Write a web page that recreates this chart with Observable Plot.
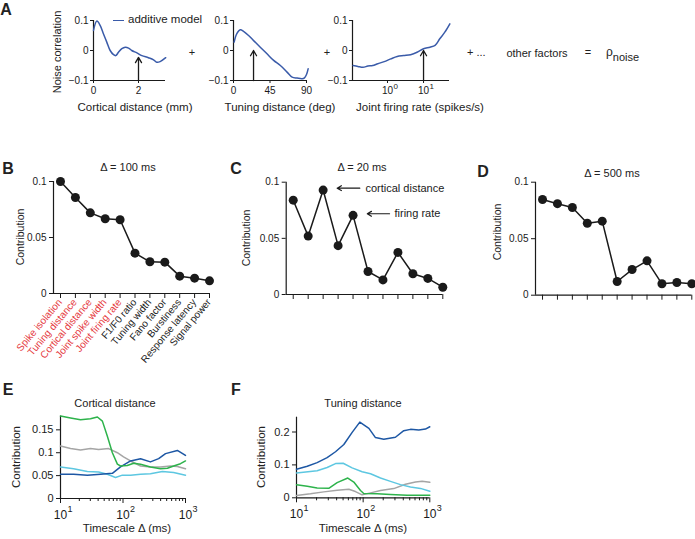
<!DOCTYPE html>
<html><head><meta charset="utf-8">
<script src="https://cdn.jsdelivr.net/npm/d3@7"></script>
<script src="https://cdn.jsdelivr.net/npm/@observablehq/plot@0.6"></script>
<style>
body{margin:0;background:#fff;}
#fig{position:relative;width:695px;height:539px;overflow:hidden;font-family:"Liberation Sans",Arial,Helvetica,sans-serif;color:#222;background:#fff;}
.lbl{position:absolute;white-space:nowrap;line-height:1.15;}
</style></head><body><div id="fig"></div>
<script>
const FONT = '"Liberation Sans", Arial, Helvetica, sans-serif';

// ---------------- DATA ----------------
// Panel A: additive model components
const aCorticalDist = [0,0.15,0.3,0.44,0.59,0.74,0.89,0.99,1.11,1.26,1.41,1.56,1.7,1.93,2.15,2.44,2.67,2.81,2.96,3.21];
const aCorticalCorr = [0.067,0.098,0.083,0.056,0.028,0,-0.014,-0.017,-0.006,0.006,0.011,0.008,0,-0.008,-0.017,-0.024,-0.031,-0.039,-0.037,-0.024];
const aTuningDeg = [0.8,4.1,8.3,12.4,18.6,24.8,33,41.3,49.5,57.8,66,72.3,78.4,84.6,87.5,90,92];
const aTuningCorr = [0.028,0.056,0.069,0.064,0.05,0.033,0.011,-0.011,-0.033,-0.05,-0.072,-0.089,-0.092,-0.094,-0.091,-0.08,-0.061];
const aRate = [0.111,0.151,0.209,0.285,0.389,0.537,0.813,1.23,1.86,2.82,4.37,6.61,10,15.1,20.9,28.2,38.9,53.7];
const aRateCorr = [-0.05,-0.053,-0.056,-0.052,-0.05,-0.044,-0.037,-0.028,-0.02,-0.017,-0.014,-0.006,0.006,0.011,0.017,0.039,0.061,0.089];
const aArrowX = [2, 24.7, 10];
const aArrowTip = [-0.023, 0, 0];

// Panels B-D: contributions of factors
const factors = ["Spike isolation","Tuning distance","Cortical distance","Joint spike width","Joint firing rate","F1/F0 ratio","Tuning width","Fano factor","Burstiness","Response latency","Signal power"];
const contribB = [0.1,0.0857,0.072,0.0667,0.0658,0.036,0.0283,0.028,0.0155,0.0137,0.0113];
const contribC = [0.084,0.052,0.093,0.0435,0.0705,0.0205,0.013,0.0375,0.0185,0.0143,0.0065];
const contribD = [0.0847,0.081,0.0776,0.0637,0.0655,0.0121,0.0227,0.0304,0.0101,0.0112,0.0101];
const cNotes = [
  {label:"cortical distance", tail:4.45, tip:2.94, textAt:4.83, y:0.0947},
  {label:"firing rate", tail:6.44, tip:4.95, textAt:6.77, y:0.0719}
];

// Panel E: cortical distance vs timescale [ms, contribution]
const eGreen = [[10,0.18],[14.5,0.176],[20.9,0.172],[30.2,0.174],[38.9,0.178],[46.8,0.169],[56.2,0.136],[67.6,0.1],[81.3,0.075],[91.2,0.071],[117,0.072],[148,0.077],[191,0.075],[275,0.069],[398,0.065],[513,0.066],[646,0.071],[832,0.076],[1000,0.082]];
const eGray = [[10,0.1145],[14.5,0.109],[20.9,0.106],[30.2,0.109],[40.7,0.107],[58.9,0.109],[81.3,0.1],[102,0.091],[132,0.082],[191,0.071],[275,0.069],[398,0.069],[575,0.071],[741,0.07],[1000,0.065]];
const eBlue = [[10,0.053],[16.2,0.053],[26.9,0.051],[43.7,0.053],[67.6,0.055],[91.2,0.069],[132,0.082],[191,0.087],[275,0.08],[372,0.087],[479,0.098],[741,0.105],[1000,0.094]];
const eCyan = [[10,0.069],[16.2,0.065],[26.9,0.059],[40.7,0.058],[56.2,0.053],[75.9,0.046],[97.7,0.051],[132,0.051],[191,0.053],[275,0.054],[427,0.059],[646,0.057],[1000,0.051]];

// Panel F: tuning distance vs timescale
const fBlue = [[10,0.087],[14.5,0.096],[20.4,0.107],[28.8,0.122],[38.5,0.14],[51.3,0.162],[68.4,0.199],[89.1,0.23],[122,0.211],[153,0.183],[204,0.178],[305,0.184],[407,0.204],[513,0.208],[684,0.206],[861,0.209],[1000,0.216]];
const fCyan = [[10,0.0755],[20.4,0.082],[28.8,0.092],[38.5,0.104],[50.1,0.105],[68.4,0.091],[96.6,0.079],[129,0.073],[182,0.06],[257,0.05],[363,0.04],[513,0.033],[724,0.0286],[1000,0.02]];
const fGreen = [[10,0.04],[14.5,0.035],[20.4,0.03],[30.5,0.029],[40.7,0.046],[58.9,0.06],[72.4,0.048],[91.2,0.022],[102,0.013],[162,0.012],[257,0.01],[457,0.008],[1000,0.008]];
const fGray = [[10,0.007],[16.2,0.012],[25.7,0.018],[40.7,0.023],[61,0.026],[76.7,0.019],[96.6,0.009],[129,0.015],[182,0.022],[288,0.028],[431,0.041],[610,0.048],[767,0.05],[1000,0.047]];

// tick values
const logMajor = [10,100,1000];
const logMinor = [20,30,40,50,60,70,80,90,200,300,400,500,600,700,800,900];
const rateMajor = [1,10];
const exponent = d => String(Math.round(Math.log10(d)));

// ---------------- HELPERS ----------------
const fig = document.getElementById("fig");
const C_BLUE = "#1d57a4", C_CYAN = "#5dc7e1", C_GREEN = "#2db34b", C_GRAY = "#a5a5a5", C_A = "#3a5ba9", C_RED = "#e5383d", INK = "#1a1a1a";
function place(svg, left, top){ svg.style.position="absolute"; svg.style.left=left+"px"; svg.style.top=top+"px"; fig.appendChild(svg); }
function label(html, x, y, o={}){
  const d=document.createElement("div"); d.className="lbl"; d.innerHTML=html;
  d.style.left=x+"px"; d.style.top=y+"px"; d.style.fontSize=(o.size||11)+"px";
  if(o.weight) d.style.fontWeight=o.weight;
  if(o.color) d.style.color=o.color;
  const ax = o.anchor==="start"?"0%":o.anchor==="end"?"-100%":"-50%";
  d.style.transform=`translate(${ax},-50%)`+(o.rotate?` rotate(${o.rotate}deg)`:"");
  fig.appendChild(d);
}
const signed = d => d<0 ? "\u2212"+Math.abs(d) : String(d);
const style = (fs) => ({background:"transparent", overflow:"visible", fontSize: fs+"px", fontFamily: FONT, color: INK});
const pairs = (xs, ys) => xs.map((x,i)=>[x, ys[i]]);

// ---------------- PANEL A ----------------
function panelA({xs, ys, xopts, xTicks, xFmt, arrowX, arrowTip, box, m, extra=[]}){
  const data = pairs(xs, ys);
  return Plot.plot({
    width: box.w, height: box.h, marginLeft:m[0], marginRight:m[1], marginTop:m[2], marginBottom:m[3],
    x: {...xopts, label:null}, y:{domain:[-0.1,0.1], label:null},
    style: style(10),
    marks: [
      Plot.ruleX([xopts.domain[0]], {stroke:INK, strokeWidth:1.2}),
      Plot.ruleY([-0.1], {stroke:INK, strokeWidth:1.2}),
      Plot.axisY({ticks:[-0.1,0,0.1], tickFormat:signed, tickSize:3, tickPadding:2, stroke:INK}),
      Plot.axisX({ticks:xTicks, tickFormat:xFmt, tickSize:3, tickPadding:3, stroke:INK}),
      Plot.line(data, {x:d=>d[0], y:d=>d[1], stroke:C_A, strokeWidth:1.5, curve:"catmull-rom"}),
      Plot.arrow([0], {x1:arrowX, x2:arrowX, y1:-0.1, y2:arrowTip, stroke:INK, strokeWidth:1.3, headLength:7}),
      ...extra
    ]
  });
}
place(panelA({xs:aCorticalDist, ys:aCorticalCorr, xopts:{domain:[0,3.2]}, xTicks:[0,2], xFmt:d=>String(d),
  arrowX:aArrowX[0], arrowTip:aArrowTip[0], box:{w:175,h:120}, m:[58,45,20,40]}), 35, 0);
place(panelA({xs:aTuningDeg, ys:aTuningCorr, xopts:{domain:[0,90]}, xTicks:[0,45,90], xFmt:d=>String(d),
  arrowX:aArrowX[1], arrowTip:aArrowTip[1], box:{w:130,h:120}, m:[33,24,20,40]}), 200, 0);
place(panelA({xs:aRate, ys:aRateCorr, xopts:{type:"log", domain:[0.107,52.5]}, xTicks:rateMajor, xFmt:()=>"10",
  arrowX:aArrowX[2], arrowTip:aArrowTip[2], box:{w:140,h:120}, m:[32,11,20,40],
  extra:[Plot.text(rateMajor, {x:d=>d, frameAnchor:"bottom", text:exponent, dx:6, dy:8, textAnchor:"start", fontSize:8, fill:INK})]}), 320, 0);

// ---------------- PANELS B, C, D ----------------
function panelDots({values, box, m, extra=[]}){
  const idx = values.map((v,i)=>i);
  return Plot.plot({
    width: box.w, height: box.h, marginLeft:m[0], marginRight:m[1], marginTop:m[2], marginBottom:m[3],
    x:{domain:[-0.47,10], label:null}, y:{domain:[0,0.1], label:null},
    style: style(10),
    marks: [
      Plot.ruleX([-0.47], {stroke:INK, strokeWidth:1.2}),
      Plot.ruleY([0], {stroke:INK, strokeWidth:1.2}),
      Plot.axisY({ticks:[0,0.05,0.1], tickFormat:d=>String(d), tickSize:4, tickPadding:3, stroke:INK}),
      Plot.axisX({ticks:idx, tickFormat:()=>"", tickSize:5, stroke:INK}),
      Plot.line(values, {x:(d,i)=>i, y:d=>d, stroke:INK, strokeWidth:1.5}),
      Plot.dot(values, {x:(d,i)=>i, y:d=>d, r:4.5, fill:INK, stroke:"none"}),
      ...extra
    ]
  });
}
const factorLabel = (filter, fill) => Plot.text(factors, {filter, x:(d,i)=>i, frameAnchor:"bottom", dy:9, dx:2, rotate:-50, textAnchor:"end", fontSize:10, fill});
place(panelDots({values:contribB, box:{w:225,h:235}, m:[53,16,31,92],
  extra:[factorLabel((d,i)=>i<5, C_RED), factorLabel((d,i)=>i>=5, INK)]}), 0, 150);
place(panelDots({values:contribC, box:{w:215,h:155}, m:[45.7,12.7,31.7,11],
  extra:[
    Plot.arrow(cNotes, {x1:"tail", x2:"tip", y1:"y", y2:"y", stroke:INK, strokeWidth:1.2, headLength:6}),
    Plot.text(cNotes, {x:"textAt", y:"y", text:"label", textAnchor:"start", fontSize:11, fill:INK})
  ]}), 240, 150);
place(panelDots({values:contribD, box:{w:215,h:155}, m:[55,3.7,31.7,10.3]}), 480, 150);

// ---------------- PANELS E, F ----------------
function panelTime({series, ydomain, yticks, box, m}){
  return Plot.plot({
    width: box.w, height: box.h, marginLeft:m[0], marginRight:m[1], marginTop:m[2], marginBottom:m[3],
    x:{type:"log", domain:[10,1000], label:null}, y:{domain:ydomain, label:null},
    style: style(11),
    marks: [
      Plot.ruleX([10], {stroke:INK, strokeWidth:1.2}),
      Plot.ruleY([0], {stroke:INK, strokeWidth:1.2}),
      Plot.axisY({ticks:yticks, tickFormat:d=>String(d), tickSize:4, tickPadding:3, stroke:INK}),
      Plot.axisX({ticks:logMinor, tickFormat:()=>"", tickSize:3, stroke:INK}),
      Plot.axisX({ticks:logMajor, tickFormat:()=>"10", tickSize:5, tickPadding:7, fontSize:12, stroke:INK}),
      Plot.text(logMajor, {x:d=>d, frameAnchor:"bottom", text:exponent, dx:7, dy:13, textAnchor:"start", fontSize:9, fill:INK}),
      ...series.map(([data, color]) => Plot.line(data, {x:d=>d[0], y:d=>d[1], stroke:color, strokeWidth:1.5}))
    ]
  });
}
place(panelTime({series:[[eGray,C_GRAY],[eCyan,C_CYAN],[eBlue,C_BLUE],[eGreen,C_GREEN]], ydomain:[0,0.18], yticks:[0,0.05,0.1,0.15],
  box:{w:210,h:134}, m:[60,25,10.6,41]}), 0, 405);
place(panelTime({series:[[fGray,C_GRAY],[fGreen,C_GREEN],[fCyan,C_CYAN],[fBlue,C_BLUE]], ydomain:[0,0.245], yticks:[0,0.1,0.2],
  box:{w:215,h:134}, m:[56,25.7,11.7,41.7]}), 240, 405);

// ---------------- TEXT ----------------
// panel letters
label("A", 6, 10, {size:16, weight:"bold"});
label("B", 8, 169, {size:16, weight:"bold"});
label("C", 236, 169, {size:16, weight:"bold"});
label("D", 483, 172, {size:16, weight:"bold"});
label("E", 8, 390, {size:16, weight:"bold"});
label("F", 236, 390, {size:16, weight:"bold"});
// panel A texts
label("Noise correlation", 57, 52, {size:11, rotate:-90});
label("Cortical distance (mm)", 135, 108, {size:11.5});
label("Tuning distance (deg)", 280, 108, {size:11.5});
label("Joint firing rate (spikes/s)", 420, 108, {size:11.5});
label("+", 192, 52, {size:11});
label("+", 327, 52, {size:11});
label("+ ...", 467, 52, {size:11, anchor:"start"});
label("other factors", 537, 53, {size:11});
label("=", 588, 52, {size:11});
label('ρ<span style="font-size:11px;position:relative;top:5px">noise</span>', 606, 53, {size:12, anchor:"start"});
// legend
const lg = document.createElement("div"); lg.style.cssText="position:absolute;left:113px;top:19.5px;width:11px;height:0;border-top:1.5px solid "+C_A; fig.appendChild(lg);
label("additive model", 128, 20, {size:11.5, anchor:"start"});
// B, C, D
label("Contribution", 20, 237, {size:10.5, rotate:-90});
label("Contribution", 246, 238, {size:10.5, rotate:-90});
label("Contribution", 497, 232, {size:10.5, rotate:-90});
label("Δ = 100 ms", 128, 167, {size:11});
label("Δ = 20 ms", 362, 167, {size:11});
label("Δ = 500 ms", 612, 173, {size:11});
// E, F
label("Cortical distance", 115, 403, {size:11});
label("Tuning distance", 363, 403, {size:11});
label("Contribution", 17, 457, {size:11.5, rotate:-90});
label("Contribution", 262, 457, {size:11.5, rotate:-90});
label("Timescale Δ (ms)", 127, 529, {size:11.5});
label("Timescale Δ (ms)", 363, 529, {size:11.5});
</script></body></html>
